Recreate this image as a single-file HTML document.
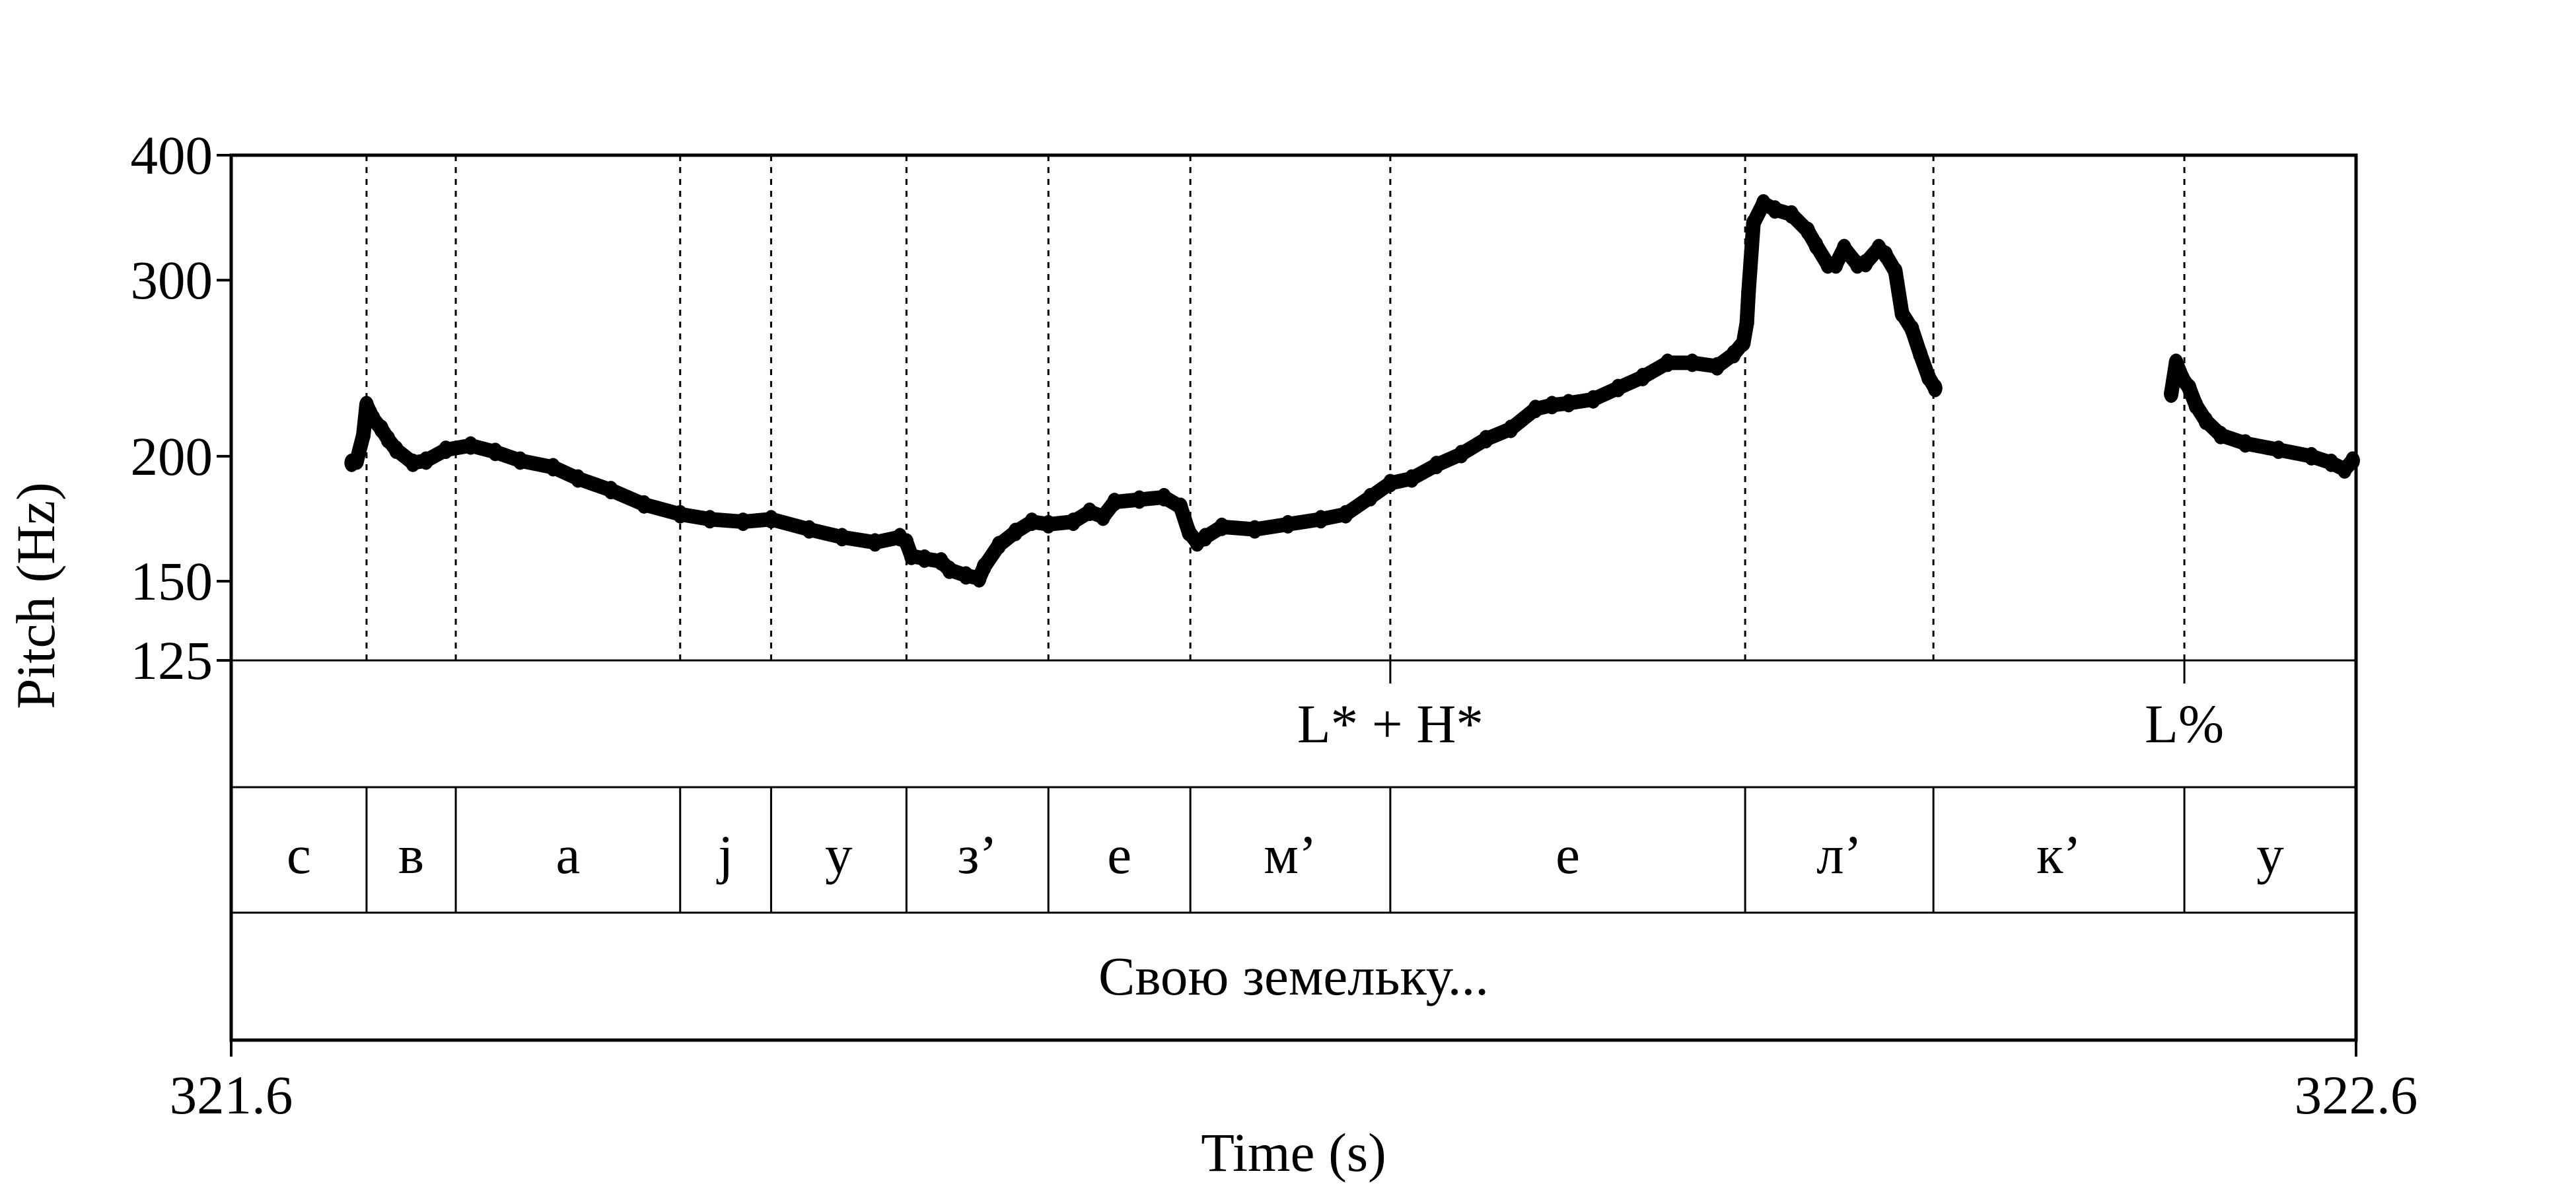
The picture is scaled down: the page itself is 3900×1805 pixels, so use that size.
<!DOCTYPE html>
<html><head><meta charset="utf-8"><style>
html,body{margin:0;padding:0;background:#fff;}
svg text{font-family:"Liberation Serif","DejaVu Serif",serif;fill:#000;}
</style></head><body>
<svg id="chart" xmlns="http://www.w3.org/2000/svg" width="3900" height="1800" viewBox="0 0 3900 1800">
<rect width="3900" height="1800" fill="#fff"/>
<g id="grid"></g><g id="pitch"></g><g id="tiers"></g><g id="axes"></g>
</svg>
<script>
const tStart = 321.6, tEnd = 322.6;
const pitchTimes = [0.0567,0.0591,0.0622,0.0637,0.0668,0.0707,0.0738,0.0777,0.0855,0.0917,0.1010,0.1127,0.1243,0.1360,0.1515,0.1632,0.1787,0.1943,0.2113,0.2253,0.2409,0.2541,0.2720,0.2875,0.3030,0.3147,0.3178,0.3201,0.3263,0.3341,0.3380,0.3458,0.3520,0.3543,0.3613,0.3691,0.3768,0.3846,0.3963,0.4040,0.4103,0.4157,0.4274,0.4390,0.4468,0.4507,0.4546,0.4584,0.4662,0.4817,0.4973,0.5128,0.5245,0.5361,0.5455,0.5556,0.5672,0.5789,0.5905,0.6022,0.6138,0.6216,0.6294,0.6410,0.6527,0.6643,0.6760,0.6876,0.6993,0.7071,0.7117,0.7133,0.7141,0.7164,0.7211,0.7265,0.7343,0.7420,0.7459,0.7514,0.7552,0.7591,0.7653,0.7692,0.7754,0.7786,0.7832,0.7863,0.7910,0.7949,0.7988,0.8019,
0.9130,0.9153,0.9184,0.9215,0.9246,0.9293,0.9363,0.9479,0.9635,0.9790,0.9883,0.9946,0.9984];
const pitchHz = [197,198,210,225,218,213,208,203,197,198,203,205,202,198,195,190,185,179,175,173,172,173,169,166,164,166,164,159,158,157,154,152,151,155,163,168,172,171,172,176,174,180,181,182,178,168,164,166,170,169,171,173,175,182,188,190,196,201,208,213,223,225,226,228,234,240,248,248,246,253,260,272,292,342,358,353,349,336,325,311,311,323,311,312,323,318,306,278,268,253,240,234,
231,248,239,234,225,217,210,206,203,200,197,194,198];
const yTicks = [125,150,200,300,400];
const segBounds = [0.0637,0.1057,0.2113,0.2541,0.3178,0.3846,0.4514,0.5455,0.7125,0.8011,0.9192];
const segLabels = ["с","в","а","j","у","з’","е","м’","е","л’","к’","у"];
const toneTimes = [0.5455,0.9192];
const toneLabels = ["L* + H*","L%"];
const sentence = "Свою земельку...";

const L=350,R=3567,T=235,B=1000,T1=1192,T2=1382,T3=1575;
const FS=83;
const NS="http://www.w3.org/2000/svg";
const X=t=>L+(t)*(R-L)/(tEnd-tStart);
const Y=h=>T+(Math.log(400)-Math.log(h))/(Math.log(400)-Math.log(125))*(B-T);
function mk(tag,attrs,parent,text){const e=document.createElementNS(NS,tag);for(const k in attrs)e.setAttribute(k,attrs[k]);if(text!==undefined)e.textContent=text;document.getElementById(parent).appendChild(e);return e;}

segBounds.forEach(b=>{
  const ln=mk('line',{x1:X(b),x2:X(b),y1:T,y2:B,stroke:'#000','stroke-width':3,'stroke-dasharray':'9 9'},'grid');
  
  
});
let seg=[];const segs=[];
pitchTimes.forEach((t,i)=>{if(i>0&&t-pitchTimes[i-1]>0.05){segs.push(seg);seg=[];}seg.push([X(t),Y(pitchHz[i])]);});
segs.push(seg);
segs.forEach(s=>{
  const p=mk('polyline',{points:s.map(q=>q.join(',')).join(' '),fill:'none',stroke:'#000','stroke-width':22,'stroke-linejoin':'round','stroke-linecap':'round'},'pitch');
  
  
});
pitchTimes.forEach((t,i)=>{
  const c=mk('ellipse',{cx:X(t),cy:Y(pitchHz[i]),rx:11,ry:14,fill:'#000'},'pitch');
  
  
});
[[B,L,R],[T1,L,R],[T2,L,R]].forEach(a=>{
  const ln=mk('line',{x1:a[1],x2:a[2],y1:a[0],y2:a[0],stroke:'#000','stroke-width':3},'tiers');
  
  
});
toneTimes.forEach((t,i)=>{
  const tk=mk('line',{x1:X(t),x2:X(t),y1:B,y2:B+35,stroke:'#000','stroke-width':3},'tiers');
  
  
  const tx=mk('text',{x:X(t),y:1124,'font-size':FS,'text-anchor':'middle'},'tiers',toneLabels[i]);
  
  
});
const edges=[0].concat(segBounds).concat([1]);
segBounds.forEach(b=>{
  const ln=mk('line',{x1:X(b),x2:X(b),y1:T1,y2:T2,stroke:'#000','stroke-width':3},'tiers');
  
  
});
segLabels.forEach((s,i)=>{
  const tx=mk('text',{x:(X(edges[i])+X(edges[i+1]))/2,y:1322,'font-size':FS,'text-anchor':'middle'},'tiers',s);
  
  
});
const st=mk('text',{x:(L+R)/2,y:1506,'font-size':FS,'text-anchor':'middle'},'tiers',sentence);


const fr=mk('rect',{x:L,y:T,width:R-L,height:T3-T,fill:'none',stroke:'#000','stroke-width':5},'axes');


yTicks.forEach(v=>{
  const tk=mk('line',{x1:L-22,x2:L,y1:Y(v),y2:Y(v),stroke:'#000','stroke-width':4},'axes');
  
  
  const tx=mk('text',{x:L-28,y:Y(v)+28,'font-size':FS,'text-anchor':'end'},'axes',String(v));
  
  
});
[[0,tStart],[1,tEnd]].forEach(a=>{
  const tk=mk('line',{x1:X(a[0]),x2:X(a[0]),y1:T3,y2:T3+25,stroke:'#000','stroke-width':4},'axes');
  
  
  const tx=mk('text',{x:X(a[0]),y:1686,'font-size':FS,'text-anchor':'middle'},'axes',a[1].toFixed(1));
  
  
});
const xt=mk('text',{x:(L+R)/2,y:1773,'font-size':FS,'text-anchor':'middle'},'axes','Time (s)');


const yt=mk('text',{x:0,y:0,'font-size':FS,'text-anchor':'middle',transform:'translate(82,902) rotate(-90)'},'axes','Pitch (Hz)');


</script>
</body></html>
